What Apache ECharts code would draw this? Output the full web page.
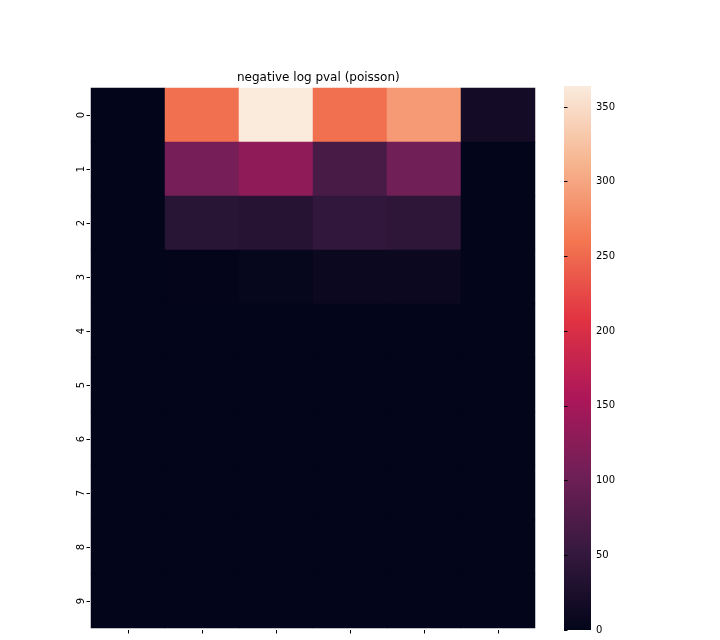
<!DOCTYPE html>
<html><head><meta charset="utf-8">
<script src="https://cdn.jsdelivr.net/npm/echarts@6/dist/echarts.min.js"></script>
<style>html,body{margin:0;padding:0;background:#fff}#c{width:720px;height:640px}</style>
</head><body><div id="c"></div>
<script>
const title = 'negative log pval (poisson)';
const xCats = ['0','1','2','3','4','5'];
const yCats = ['0','1','2','3','4','5','6','7','8','9'];
const row0 = [0, 255, 364, 255, 290, 18];
const row1 = [0, 109, 130, 69, 104, 0];
const row2 = [0, 38, 36, 48, 44, 0];
const row3 = [0, 1, 3, 9, 8, 0];
const row4 = [0, 0, 0, 0, 0, 0];
const row5 = [0, 0, 0, 0, 0, 0];
const row6 = [0, 0, 0, 0, 0, 0];
const row7 = [0, 0, 0, 0, 0, 0];
const row8 = [0, 0, 0, 0, 0, 0];
const row9 = [0, 0, 0, 0, 0, 0];
const rows = [row0,row1,row2,row3,row4,row5,row6,row7,row8,row9];
const vMin = 0, vMax = 364;
const cbTicks = [0, 50, 100, 150, 200, 250, 300, 350];
const rocket = ['#03051a','#35193e','#701f57','#ad1759','#e13342','#f37651','#f6b48f','#faebdd'];

const data = [];
rows.forEach((r, yi) => r.forEach((v, xi) => data.push([xi, yi, v])));

// colorbar gradient: top = max, bottom = min
const stops = rocket.map((c, i) => ({offset: 1 - i / (rocket.length - 1), color: c})).reverse();

const chart = echarts.init(document.getElementById('c'), null, {renderer:'canvas'});
const font = 'DejaVu Sans';
chart.setOption({
  animation: false,
  textStyle: {fontFamily: font},
  title: {text: title, left: 232, top: 67,
    textStyle: {fontSize: 12, fontWeight: 'normal', color: '#000', fontFamily: font}},
  grid: [
    {left: 91, top: 88, width: 444, height: 540},
    {left: 564, top: 86, width: 27, height: 544, show: true, borderWidth: 0,
     backgroundColor: new echarts.graphic.LinearGradient(0, 0, 0, 1, stops)}
  ],
  xAxis: [
    {type: 'category', data: xCats, gridIndex: 0, position: 'bottom', offset: 2,
     axisLine: {show: false}, splitLine: {show: false},
     axisTick: {show: true, alignWithLabel: true, length: 3.5, lineStyle: {color: '#000'}},
     axisLabel: {show: false}},
    {type: 'value', gridIndex: 1, show: false, min: 0, max: 1}
  ],
  yAxis: [
    {type: 'category', data: yCats, gridIndex: 0, inverse: true, offset: 1,
     axisLine: {show: false}, splitLine: {show: false},
     axisTick: {show: true, alignWithLabel: true, length: 3.5, lineStyle: {color: '#000'}},
     axisLabel: {rotate: 90, margin: 4, fontSize: 10, color: '#000', fontFamily: font}},
    {type: 'value', gridIndex: 1, position: 'right', min: vMin, max: vMax,
     axisLine: {show: false}, splitLine: {show: false},
     axisTick: {show: true, length: 3.5, lineStyle: {color: '#000'}, customValues: cbTicks},
     axisLabel: {margin: 5, fontSize: 10, color: '#000', fontFamily: font, customValues: cbTicks}}
  ],
  visualMap: {
    type: 'continuous', min: vMin, max: vMax, seriesIndex: 0, show: false,
    inRange: {color: rocket}
  },
  series: [
    {type: 'heatmap', xAxisIndex: 0, yAxisIndex: 0, data: data,
     emphasis: {disabled: true}},
    {type: 'scatter', xAxisIndex: 1, yAxisIndex: 1, data: [], silent: true}
  ]
});
</script>
</body></html>
